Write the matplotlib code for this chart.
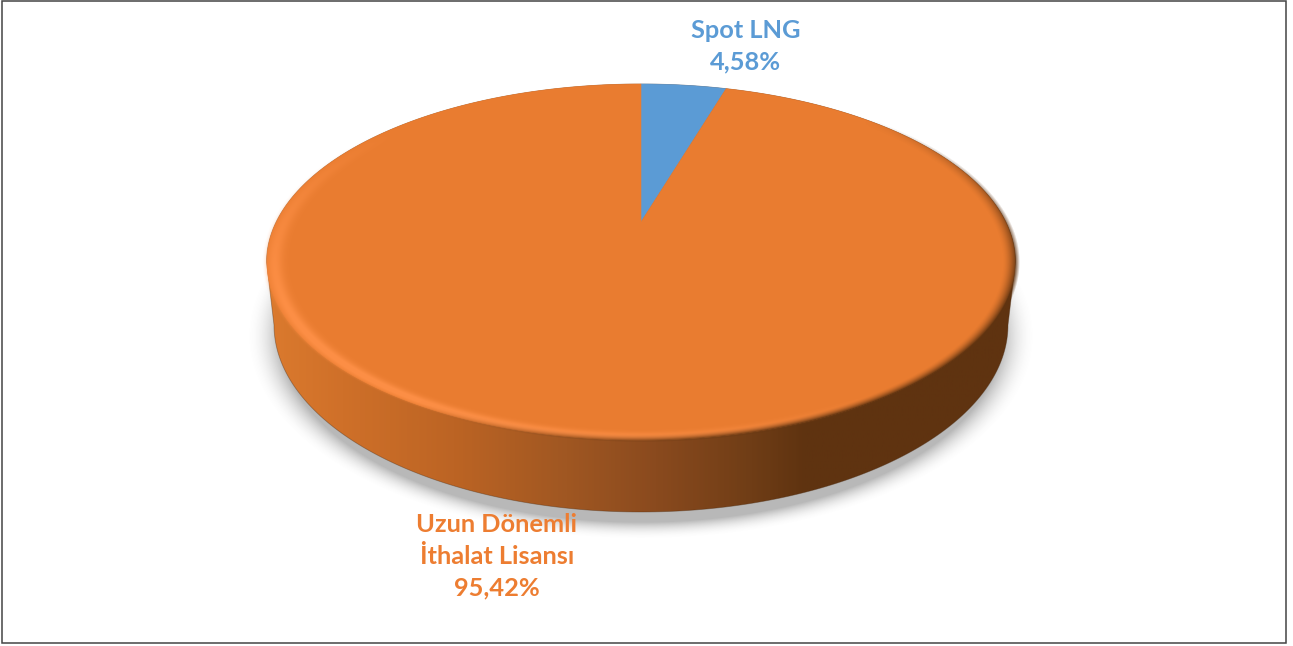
import numpy as np
import matplotlib
matplotlib.use("Agg")
import matplotlib.pyplot as plt
from matplotlib.colors import LinearSegmentedColormap, to_rgb
from matplotlib.patches import Polygon, Rectangle

# pie data
categories = ["Spot LNG", "Uzun Dönemli\nİthalat Lisansı"]
values = [4.58, 95.42]
colors = ["#5B9BD5", "#E97C30"]
label_colors = ["#5B9BD5", "#ED7D31"]

W, H = 1293, 646
plt.rcParams["font.family"] = ["Lato", "DejaVu Sans"]

fig = plt.figure(figsize=(W / 100, H / 100), dpi=100)
ax = fig.add_axes([0, 0, 1, 1])
ax.set_xlim(0, W)
ax.set_ylim(H, 0)
ax.axis("off")

# perspective of the disc: unit circle -> pixels
cx, apex_y = 641.0, 222.0
k = 0.2247
sy = 169.0
sx = 364.5


def project(u, v):
    return cx + sx * u / (1 + k * v), apex_y - sy * v / (1 + k * v)


# ellipse of the top face / of the bottom edge
face_cy, face_a, face_b = 262.0, 374.5, 178.0
low_cy, low_a, low_b = 325.0, 367.0, 187.0

yy, xx = np.mgrid[0:H, 0:W] + 0.5
extent = (0, W, H, 0)

# soft shadow under the disc
r_sh = np.hypot((xx - cx) / 376.0, (yy - 336.0) / 194.0)
sh = np.clip((1.05 - r_sh) / 0.09, 0, 1) ** 2 * 0.5
img = np.zeros((H, W, 4))
img[..., :3] = 0.45
img[..., 3] = sh
ax.imshow(img, extent=extent, aspect="auto", zorder=1, interpolation="bilinear")

# side of the disc with horizontal gradient
t = np.linspace(0, np.pi, 200)
top_arc = np.c_[cx - face_a * np.cos(t), face_cy - face_b * np.sin(t)]
low_arc = np.c_[cx + low_a * np.cos(t), low_cy + low_b * np.sin(t)]
hull = Polygon(np.r_[top_arc, low_arc], closed=True, fc="none", ec="#4a2a10", lw=0.6, alpha=0.4, zorder=2.5)
ax.add_patch(hull)

side_cmap = LinearSegmentedColormap.from_list(
    "side",
    [(0.0, "#DB7A2E"), (0.1, "#CF7029"), (0.25, "#BC6424"), (0.4, "#A05722"),
     (0.52, "#8A4A1E"), (0.65, "#6F3D16"), (0.72, "#5F3310"), (1.0, "#5F3310")],
)
grad = np.linspace(0, 1, 400).reshape(1, -1)
side = ax.imshow(grad, cmap=side_cmap, extent=(cx - low_a - 8, cx + low_a + 8, 520, 80),
                 aspect="auto", zorder=2)
side.set_clip_path(hull)
ax.set_xlim(0, W)
ax.set_ylim(H, 0)

# top face, wedges from the values
shares = np.cumsum([0] + values) / sum(values)
for i in range(len(values)):
    a = 2 * np.pi * np.linspace(shares[i], shares[i + 1], 300)
    px, py = project(np.sin(a), np.cos(a))
    pts = np.r_[[project(0.0, 0.0)], np.c_[px, py]]
    ax.add_patch(Polygon(pts, closed=True, fc=colors[i], ec=colors[i], lw=0.4, zorder=3))

# bevel on the rim: highlight lower left, dark lower right
nx = (xx - cx) / face_a
ny = (yy - face_cy) / face_b
r = np.hypot(nx, ny)
rs = np.maximum(r, 1e-6)
light = np.clip((-0.75 * nx + 0.66 * ny) / rs, 0, 1)
shade = np.clip((0.8 * nx + 0.6 * ny) / rs, 0, 1)
inside = np.clip((1.012 - r) / 0.012, 0, 1)

band = np.exp(-(((r - 0.978) / 0.022) ** 2)) * light
dark = np.clip((r - 0.965) / 0.035, 0, 1) ** 1.7 * shade
hi_col = np.array(to_rgb("#FF9148"))
lo_col = np.array(to_rgb("#5F3310"))
over = np.zeros((H, W, 4))
a_hi = np.clip(band * 1.0, 0, 0.9)
a_lo = np.clip(dark, 0, 0.95)
total = np.maximum(a_hi + a_lo, 1e-6)
for c in range(3):
    over[..., c] = (hi_col[c] * a_hi + lo_col[c] * a_lo) / total
over[..., 3] = np.clip(a_hi + a_lo, 0, 1) * inside
ax.imshow(over, extent=extent, aspect="auto", zorder=4, interpolation="bilinear")
ax.set_xlim(0, W)
ax.set_ylim(H, 0)

# labels
label_x = [746, 497]
label_y = [46, 556]
for i in range(len(values)):
    txt = categories[i] + "\n" + f"{values[i]:.2f}".replace(".", ",") + "%"
    ax.text(label_x[i], label_y[i], txt, color=label_colors[i], fontsize=18.3, fontweight="bold",
            ha="center", va="center", linespacing=1.47, zorder=6)

# chart frame
ax.add_patch(Rectangle((2, 1), 1284, 642, fc="none", ec="#444444", lw=1.1, zorder=7))

fig.savefig("out.png", dpi=100)
